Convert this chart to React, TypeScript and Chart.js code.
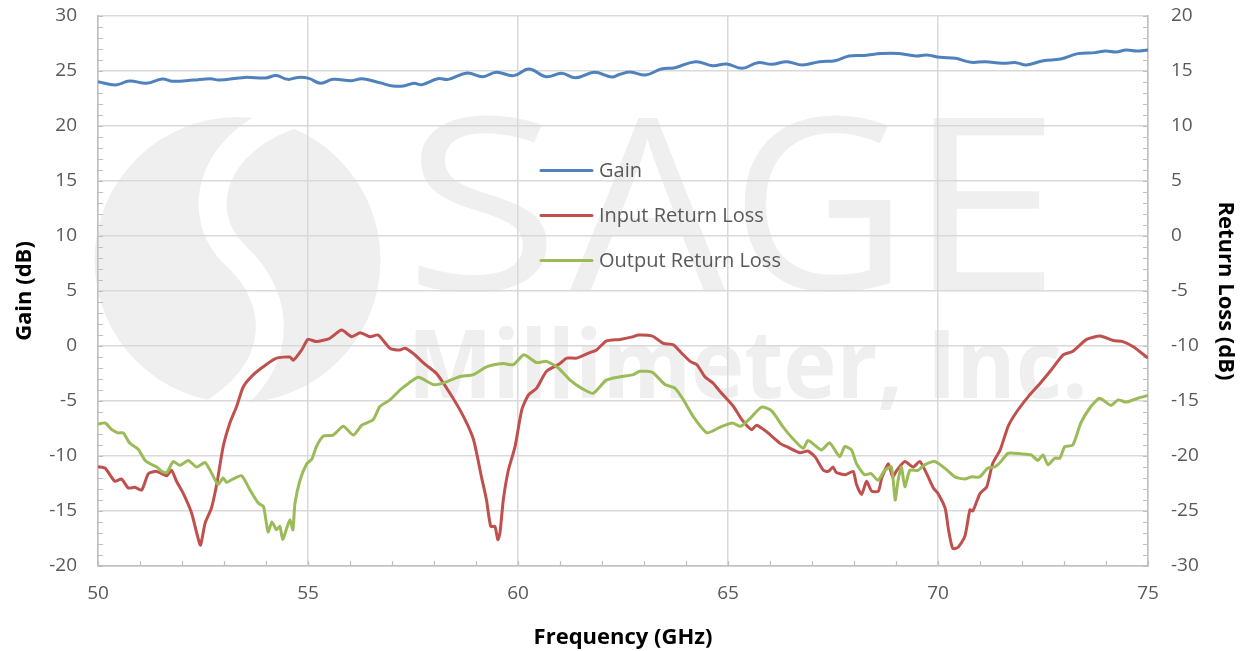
import { useEffect, useRef } from "react";
import { Chart, registerables } from "chart.js";

Chart.register(...registerables);

// ---------------- Data ----------------
const gainFreq = [50.0, 50.42, 50.75, 51.16, 51.53, 51.78, 52.27, 52.68, 52.88, 53.5, 53.99, 54.24, 54.52, 54.77, 55.02, 55.3, 55.59, 56.04, 56.29, 56.7, 57.02, 57.27, 57.52, 57.72, 58.09, 58.34, 58.79, 59.16, 59.48, 59.9, 60.26, 60.67, 61.04, 61.37, 61.82, 62.23,
  62.43, 62.67, 63.04, 63.41, 63.74, 64.23, 64.64, 64.97, 65.34, 65.71, 66.04, 66.4, 66.77, 67.18, 67.55, 67.88, 68.25, 68.66, 69.07, 69.48, 69.73, 70.05, 70.42, 70.79, 71.12, 71.53, 71.86, 72.1, 72.51, 72.92, 73.33, 73.74, 73.99, 74.24, 74.48, 74.73, 75.0];
const gainDb = [24.03, 23.73, 24.09, 23.88, 24.27, 24.06, 24.18, 24.3, 24.18, 24.42, 24.36, 24.58, 24.24, 24.42, 24.33, 23.88, 24.24, 24.12, 24.3, 23.94, 23.64, 23.64, 23.88, 23.76, 24.3, 24.24, 24.82, 24.48, 24.88, 24.58, 25.18, 24.48, 24.79, 24.39, 24.88, 24.45,
  24.7, 24.91, 24.64, 25.18, 25.3, 25.85, 25.48, 25.64, 25.24, 25.76, 25.61, 25.85, 25.55, 25.85, 25.94, 26.36, 26.42, 26.58, 26.58, 26.36, 26.45, 26.24, 26.15, 25.79, 25.85, 25.7, 25.76, 25.55, 25.94, 26.09, 26.58, 26.67, 26.82, 26.73, 26.91, 26.82, 26.91];

const inputFreq = [50, 50.17, 50.4, 50.56, 50.72, 50.88, 51.04, 51.2, 51.4, 51.63, 51.75, 51.87, 52.03, 52.23, 52.35, 52.44, 52.55, 52.7, 52.83, 52.98, 53.14, 53.3, 53.46, 53.7, 54.0, 54.25, 54.57, 54.65, 54.85, 55.0, 55.2, 55.52, 55.8, 56.04, 56.24, 56.48, 56.67, 56.95, 57.19, 57.31, 57.5, 57.8, 58.06, 58.38, 58.7, 58.94, 59.13, 59.25, 59.35, 59.45, 59.52, 59.57, 59.65, 59.77, 59.93, 60.09, 60.25, 60.44, 60.68, 61.0, 61.16, 61.4, 61.71, 61.87, 62.1, 62.43, 62.75, 62.86, 63.2, 63.46, 63.7, 63.9, 64.1, 64.26, 64.45, 64.65, 64.8, 65.13, 65.33, 65.56, 65.68, 65.92, 66.24, 66.4, 66.71, 66.9, 67.07, 67.27, 67.39, 67.5, 67.58, 67.8, 67.98, 68.06, 68.18, 68.3, 68.42, 68.58, 68.66, 68.82, 68.92, 69.02, 69.21, 69.41, 69.57, 69.73, 69.89, 70.0, 70.17, 70.25, 70.35, 70.48, 70.64, 70.76, 70.83, 71.0, 71.16, 71.3, 71.48, 71.67, 71.87, 72.15, 72.43, 72.67, 72.98, 73.2, 73.54, 73.86, 74.17, 74.4, 74.65, 75.0];
const inputRL = [-20.97, -21.1, -22.3, -22.1, -22.9, -22.85, -23.1, -21.6, -21.4, -21.8, -21.3, -22.3, -23.4, -25.2, -27.0, -28.1, -26.1, -24.75, -22.5, -19.15, -17.0, -15.5, -13.7, -12.6, -11.7, -11.1, -11.0, -11.3, -10.36, -9.4, -9.6, -9.3, -8.55, -9.15, -8.8, -9.15, -9.0, -10.2, -10.36, -10.2, -10.66, -11.7, -12.5, -14.3, -16.4, -18.5, -21.9, -24.0, -26.4, -26.4, -27.6, -27.0, -24.0, -21.3, -19.15, -15.8, -14.45, -13.85, -12.3, -11.6, -11.1, -11.1, -10.6, -10.36, -9.55, -9.4, -9.15, -9.0, -9.1, -9.76, -9.9, -10.66, -11.4, -11.7, -12.8, -13.4, -14.1, -15.5, -16.7, -17.6, -17.2, -17.8, -18.85, -19.15, -19.7, -19.55, -20.06, -21.3, -21.4, -21.0, -21.5, -21.7, -21.4, -22.6, -23.5, -22.3, -23.2, -23.2, -22.0, -20.7, -21.9, -21.3, -20.5, -21.0, -20.5, -21.6, -22.9, -23.4, -24.75, -26.7, -28.4, -28.3, -27.3, -24.9, -25.0, -23.4, -22.8, -20.7, -19.45, -17.3, -16.0, -14.6, -13.4, -12.3, -10.8, -10.5, -9.4, -9.1, -9.5, -9.6, -10.06, -11.1];

const outputFreq = [50, 50.17, 50.33, 50.48, 50.6, 50.76, 50.96, 51.12, 51.24, 51.4, 51.52, 51.64, 51.79, 51.95, 52.15, 52.35, 52.55, 52.71, 52.86, 52.98, 53.06, 53.21, 53.42, 53.62, 53.82, 53.94, 54.05, 54.14, 54.25, 54.33, 54.4, 54.49, 54.57, 54.64, 54.69, 54.81, 54.97, 55.09, 55.2, 55.36, 55.6, 55.84, 56.08, 56.28, 56.55, 56.71, 56.95, 57.19, 57.39, 57.63, 57.98, 58.2, 58.6, 58.94, 59.25, 59.65, 59.89, 60.14, 60.44, 60.68, 60.96, 61.24, 61.52, 61.79, 62.1, 62.43, 62.75, 62.9, 63.2, 63.5, 63.74, 63.94, 64.17, 64.5, 64.8, 65.1, 65.3, 65.52, 65.8, 66.04, 66.3, 66.54, 66.79, 66.9, 67.03, 67.23, 67.42, 67.66, 67.78, 67.94, 68.06, 68.25, 68.41, 68.57, 68.73, 68.89, 68.98, 69.05, 69.13, 69.21, 69.33, 69.52, 69.68, 69.92, 70.16, 70.4, 70.64, 70.79, 70.99, 71.19, 71.35, 71.5, 71.67, 71.98, 72.22, 72.38, 72.5, 72.62, 72.78, 72.9, 73.02, 73.21, 73.4, 73.64, 73.84, 73.96, 74.12, 74.29, 74.48, 74.76, 75.0];
const outputRL = [-17.1, -17.0, -17.6, -17.9, -17.9, -18.85, -19.4, -20.4, -20.7, -21.0, -21.4, -21.5, -20.5, -20.85, -20.4, -21.0, -20.6, -21.6, -22.6, -22.0, -22.4, -22.1, -21.8, -23.1, -24.3, -24.6, -26.9, -26.0, -26.7, -26.4, -27.6, -26.6, -25.8, -26.7, -24.3, -22.2, -20.7, -20.3, -19.15, -18.2, -18.1, -17.3, -18.1, -17.2, -16.7, -15.5, -14.9, -14.0, -13.4, -12.85, -13.5, -13.4, -12.8, -12.6, -11.9, -11.6, -11.7, -10.8, -11.5, -11.4, -12.0, -13.1, -13.85, -14.3, -13.1, -12.8, -12.6, -12.3, -12.4, -13.5, -13.85, -14.9, -16.4, -17.9, -17.4, -17.0, -17.3, -16.6, -15.55, -15.9, -17.3, -18.4, -19.3, -18.6, -18.9, -19.45, -18.8, -20.06, -19.15, -19.45, -20.7, -21.7, -21.6, -22.2, -21.3, -21.0, -24.0, -22.2, -21.0, -22.8, -21.3, -21.3, -20.8, -20.5, -21.1, -21.9, -22.1, -21.9, -21.9, -21.1, -21.0, -20.5, -19.75, -19.8, -19.9, -20.4, -19.9, -20.8, -20.2, -20.2, -19.15, -19.0, -17.0, -15.5, -14.75, -15.0, -15.4, -14.9, -15.1, -14.75, -14.5];

const seriesNames = ["Gain", "Input Return Loss", "Output Return Loss"];
const seriesColors = ["#4f81bd", "#c0504d", "#9bbb59"];

const xTickMin = 50, xTickMax = 75, xStep = 5;
const gainMin = -20, gainMax = 30;
const rlMin = -30, rlMax = 20;
const yStep = 5;

const FONT = "'Open Sans', 'Noto Sans', sans-serif";
const TICK_COLOR = "#595959";
const GRID_COLOR = "#d9d9d9";
const AXIS_COLOR = "#bfbfbf";

const toPoints = (xs: number[], ys: number[]) => xs.map((x, i) => ({ x, y: ys[i] }));

// Watermark drawn behind the grid
const watermarkPlugin = {
  id: "watermark",
  beforeDraw(chart: any) {
    const ctx = chart.ctx as CanvasRenderingContext2D;
    ctx.save();
    ctx.fillStyle = "#efefef";
    ctx.beginPath();
    ctx.arc(237.5, 260, 143, 0, Math.PI * 2);
    ctx.fill();
    ctx.strokeStyle = "#ffffff";
    ctx.lineWidth = 28;
    ctx.lineCap = "butt";
    ctx.beginPath();
    ctx.moveTo(300, 112);
    ctx.bezierCurveTo(208, 140, 192, 215, 236, 256);
    ctx.bezierCurveTo(280, 296, 292, 368, 205, 418);
    ctx.stroke();

    const letters = [
      { ch: "S", left: 418, w: 129 },
      { ch: "A", left: 570, w: 156 },
      { ch: "G", left: 744, w: 147 },
      { ch: "E", left: 933, w: 112 },
    ];
    ctx.font = `normal 241px ${FONT}`;
    ctx.textAlign = "left";
    ctx.textBaseline = "alphabetic";
    for (const L of letters) {
      const m = ctx.measureText(L.ch);
      const bw = m.actualBoundingBoxLeft + m.actualBoundingBoxRight;
      ctx.save();
      ctx.translate(L.left, 290);
      ctx.scale(L.w / bw, 1);
      ctx.fillText(L.ch, m.actualBoundingBoxLeft, 0);
      ctx.restore();
    }
    ctx.font = `bold 95px ${FONT}`;
    const t = "Millimeter, Inc.";
    const m2 = ctx.measureText(t);
    const bw2 = m2.actualBoundingBoxLeft + m2.actualBoundingBoxRight;
    ctx.save();
    ctx.translate(415, 398);
    ctx.scale(668 / bw2, 1);
    ctx.fillText(t, m2.actualBoundingBoxLeft, 0);
    ctx.restore();
    ctx.restore();
  },
};

// Inward minor tick marks on every axis
const minorTicksPlugin = {
  id: "minorTicks",
  beforeDatasetsDraw(chart: any) {
    const ctx = chart.ctx as CanvasRenderingContext2D;
    const { x, yL, yR } = chart.scales;
    const area = chart.chartArea;
    ctx.save();
    ctx.strokeStyle = AXIS_COLOR;
    ctx.lineWidth = 1.2;
    ctx.beginPath();
    for (let v = xTickMin; v <= xTickMax; v += 1) {
      const p = Math.round(x.getPixelForValue(v)) + 0.5;
      ctx.moveTo(p, area.bottom);
      ctx.lineTo(p, area.bottom - 5);
    }
    for (let v = gainMin; v <= gainMax; v += 1) {
      const p = Math.round(yL.getPixelForValue(v)) + 0.5;
      ctx.moveTo(area.left, p);
      ctx.lineTo(area.left + 5, p);
    }
    for (let v = rlMin; v <= rlMax; v += 1) {
      const p = Math.round(yR.getPixelForValue(v)) + 0.5;
      ctx.moveTo(area.right, p);
      ctx.lineTo(area.right - 5, p);
    }
    ctx.stroke();
    ctx.restore();
  },
};

// Legend inside the plot area
const legendPlugin = {
  id: "innerLegend",
  afterDatasetsDraw(chart: any) {
    const ctx = chart.ctx as CanvasRenderingContext2D;
    ctx.save();
    ctx.font = `normal 20px ${FONT}`;
    ctx.textBaseline = "middle";
    ctx.textAlign = "left";
    const rows = [170.5, 215.5, 260.5];
    chart.data.datasets.forEach((ds: any, i: number) => {
      const y = rows[i];
      ctx.strokeStyle = ds.borderColor;
      ctx.lineWidth = 3;
      ctx.lineCap = "round";
      ctx.beginPath();
      ctx.moveTo(541, y);
      ctx.lineTo(592, y);
      ctx.stroke();
      ctx.fillStyle = TICK_COLOR;
      ctx.fillText(ds.label, 599, y + 1);
    });
    ctx.restore();
  },
};

export default function App() {
  const ref = useRef<HTMLCanvasElement | null>(null);

  useEffect(() => {
    document.body.style.margin = "0";
    const canvas = ref.current;
    if (!canvas) return;
    const tickFont = { family: FONT, size: 19 };
    const titleFont = { family: FONT, size: 22, weight: "bold" as const };
    const fitV = (w: number) => (s: any) => {
      s.width = w;
      s.paddingTop = 0;
      s.paddingBottom = 0;
    };
    const chart = new Chart(canvas, {
      type: "line",
      data: {
        datasets: [
          {
            label: seriesNames[0],
            data: toPoints(gainFreq, gainDb),
            borderColor: seriesColors[0],
            backgroundColor: seriesColors[0],
            borderWidth: 3,
            pointRadius: 0,
            tension: 0.4,
            yAxisID: "yL",
            order: 3,
          },
          {
            label: seriesNames[1],
            data: toPoints(inputFreq, inputRL),
            borderColor: seriesColors[1],
            backgroundColor: seriesColors[1],
            borderWidth: 3,
            pointRadius: 0,
            tension: 0.2,
            yAxisID: "yR",
            order: 2,
          },
          {
            label: seriesNames[2],
            data: toPoints(outputFreq, outputRL),
            borderColor: seriesColors[2],
            backgroundColor: seriesColors[2],
            borderWidth: 3,
            pointRadius: 0,
            tension: 0.2,
            yAxisID: "yR",
            order: 1,
          },
        ],
      },
      options: {
        responsive: false,
        animation: false,
        devicePixelRatio: 1,
        layout: { padding: { top: 16, left: 0, right: 0, bottom: 0 } },
        plugins: {
          legend: { display: false },
          tooltip: { enabled: false },
        },
        scales: {
          x: {
            type: "linear",
            min: xTickMin,
            max: xTickMax,
            ticks: { stepSize: xStep, font: tickFont, color: TICK_COLOR, padding: 16 },
            grid: { color: GRID_COLOR, lineWidth: 1.5, drawTicks: false },
            border: { color: AXIS_COLOR, width: 1.5 },
            title: {
              display: true,
              text: "Frequency (GHz)",
              font: titleFont,
              color: "#000000",
              padding: { top: 0, bottom: 0 },
            },
            afterFit: (s: any) => {
              s.height = 85;
              s.paddingLeft = 0;
              s.paddingRight = 0;
            },
          },
          yL: {
            type: "linear",
            position: "left",
            min: gainMin,
            max: gainMax,
            ticks: { stepSize: yStep, font: tickFont, color: TICK_COLOR, padding: 21 },
            grid: { color: GRID_COLOR, lineWidth: 1.5, drawTicks: false },
            border: { color: AXIS_COLOR, width: 1.5 },
            title: {
              display: true,
              text: "Gain (dB)",
              font: titleFont,
              color: "#000000",
              padding: { top: 12, bottom: 0 },
            },
            afterFit: fitV(98),
          },
          yR: {
            type: "linear",
            position: "right",
            min: rlMin,
            max: rlMax,
            ticks: { stepSize: yStep, font: tickFont, color: TICK_COLOR, padding: 23 },
            grid: { drawOnChartArea: false, drawTicks: false },
            border: { color: AXIS_COLOR, width: 1.5 },
            title: {
              display: true,
              text: "Return Loss (dB)",
              font: titleFont,
              color: "#000000",
              padding: { top: 12, bottom: 0 },
            },
            afterFit: fitV(102),
          },
        },
      },
      plugins: [watermarkPlugin, minorTicksPlugin, legendPlugin],
    });
    return () => chart.destroy();
  }, []);

  return (
    <div style={{ width: 1250, height: 651 }}>
      <canvas ref={ref} width={1250} height={651} style={{ display: "block" }} />
    </div>
  );
}
